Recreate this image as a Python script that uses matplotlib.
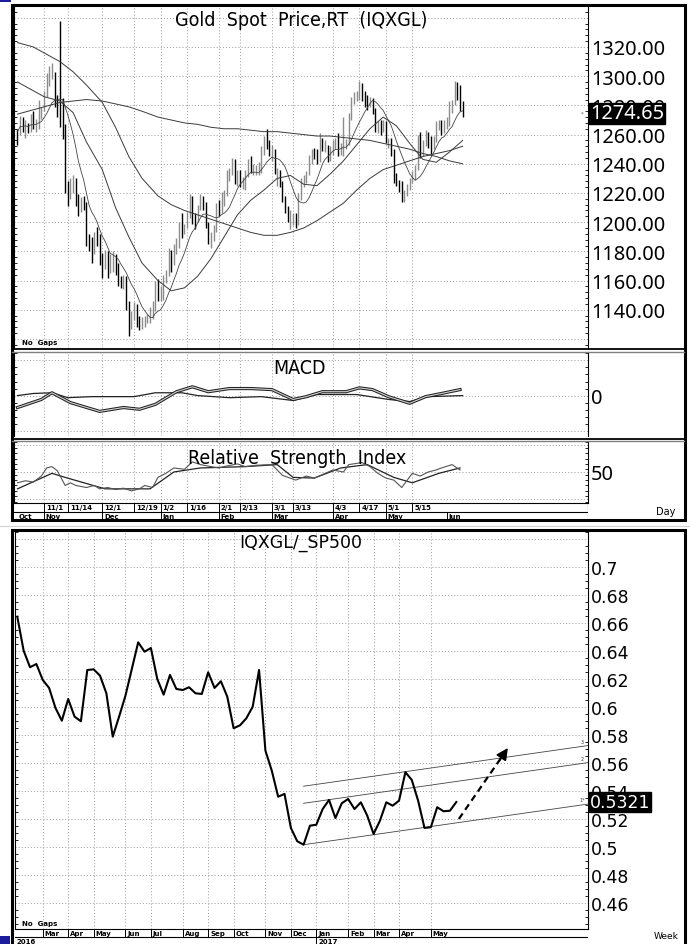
import numpy as np
import pandas as pd
import matplotlib
matplotlib.use('Agg')
import matplotlib.pyplot as plt
from matplotlib.patches import Rectangle
from matplotlib.lines import Line2D
from matplotlib.ticker import MultipleLocator, FixedLocator, FixedFormatter

W, H = 690, 945

# ---------------- top chart: daily gold spot ----------------
day_start, day_end = '2016-10-18', '2017-06-09'

lows = [1253, 1260, 1262, 1258, 1261, 1262, 1264, 1262, 1264, 1271,
        1276, 1286, 1293, 1298, 1279, 1272, 1265, 1257, 1220, 1211, 1216, 1220, 1211, 1204, 1207, 1208, 1184, 1180, 1172, 1178, 1184, 1171,
        1162, 1168, 1162, 1165, 1166, 1164, 1156, 1155, 1154, 1140, 1122, 1127, 1133, 1128, 1126, 1127, 1128, 1131, 1131, 1134, 1139, 1146,
        1146, 1147, 1158, 1163, 1166, 1171, 1178, 1182, 1189, 1192, 1196, 1203, 1199, 1195, 1200, 1208, 1208, 1196, 1185, 1182, 1187, 1193,
        1204, 1206, 1211, 1218, 1228, 1232, 1226, 1225, 1224, 1223, 1222, 1231, 1234, 1232, 1232, 1232, 1234, 1246, 1250, 1245,
        1242, 1233, 1225, 1224, 1214, 1206, 1200, 1195, 1198, 1196, 1198, 1215, 1224, 1227, 1232, 1240, 1243, 1240, 1241, 1249, 1248, 1241, 1242,
        1246, 1250, 1245, 1246, 1245, 1250, 1253, 1270, 1281, 1283, 1284, 1283, 1279, 1277, 1279, 1274, 1262, 1261, 1260, 1262,
        1254, 1251, 1245, 1227, 1225, 1221, 1214, 1214, 1218, 1222, 1227, 1229, 1236, 1244, 1245, 1252, 1251, 1247, 1250, 1255, 1263, 1260, 1261,
        1264, 1266, 1275, 1280, 1284, 1276, 1272]
highs = [1264, 1273, 1272, 1270, 1268, 1274, 1276, 1271, 1284, 1279,
         1290, 1302, 1307, 1309, 1303, 1287, 1338, 1285, 1267, 1228, 1230, 1232, 1230, 1219, 1217, 1218, 1214, 1192, 1190, 1193, 1197, 1192,
         1179, 1181, 1180, 1178, 1180, 1178, 1172, 1163, 1164, 1163, 1146, 1139, 1145, 1144, 1136, 1135, 1136, 1137, 1142, 1146, 1160, 1161,
         1156, 1164, 1167, 1182, 1181, 1185, 1189, 1200, 1206, 1199, 1207, 1219, 1218, 1206, 1212, 1219, 1218, 1214, 1200, 1193, 1198, 1213,
         1215, 1221, 1222, 1236, 1237, 1244, 1243, 1236, 1236, 1231, 1236, 1243, 1245, 1240, 1239, 1241, 1252, 1259, 1264, 1256,
         1253, 1250, 1237, 1236, 1228, 1218, 1211, 1208, 1206, 1206, 1220, 1230, 1232, 1235, 1246, 1250, 1251, 1250, 1261, 1258, 1256, 1253, 1252,
         1256, 1258, 1261, 1254, 1272, 1257, 1275, 1286, 1289, 1290, 1297, 1295, 1290, 1287, 1286, 1285, 1278, 1269, 1270, 1270,
         1269, 1258, 1258, 1250, 1234, 1229, 1228, 1222, 1226, 1230, 1235, 1239, 1260, 1262, 1256, 1263, 1262, 1259, 1259, 1269, 1270, 1270, 1270,
         1272, 1283, 1284, 1297, 1296, 1294, 1283]
closes = [1262, 1269, 1266, 1267, 1263, 1273, 1267, 1269, 1276, 1277,
          1288, 1297, 1303, 1304, 1280, 1275, 1274, 1266, 1225, 1221, 1225, 1226, 1216, 1209, 1213, 1212, 1187, 1183, 1178, 1191, 1188, 1173,
          1170, 1177, 1170, 1170, 1176, 1171, 1160, 1158, 1160, 1143, 1129, 1136, 1141, 1132, 1131, 1131, 1133, 1133, 1139, 1141, 1158, 1151,
          1151, 1162, 1165, 1180, 1172, 1184, 1186, 1197, 1196, 1196, 1204, 1217, 1203, 1202, 1210, 1217, 1212, 1198, 1190, 1190, 1196, 1211,
          1210, 1218, 1220, 1234, 1236, 1241, 1229, 1234, 1226, 1230, 1233, 1241, 1236, 1236, 1236, 1237, 1250, 1257, 1254, 1249,
          1249, 1234, 1234, 1226, 1216, 1209, 1202, 1202, 1204, 1199, 1218, 1226, 1229, 1234, 1244, 1248, 1247, 1243, 1254, 1252, 1252, 1244, 1249,
          1253, 1256, 1248, 1252, 1253, 1254, 1273, 1284, 1287, 1287, 1291, 1289, 1283, 1281, 1283, 1276, 1264, 1267, 1264, 1268,
          1255, 1256, 1248, 1229, 1228, 1227, 1218, 1219, 1224, 1228, 1230, 1237, 1258, 1246, 1254, 1261, 1253, 1251, 1256, 1267, 1267, 1263, 1268,
          1269, 1280, 1281, 1293, 1287, 1280, 1274.65]
last_price = 1274.65

ma_dates = ['2016-10-18', '2016-10-26', '2016-11-01', '2016-11-09', '2016-11-16', '2016-11-23',
            '2016-12-01', '2016-12-08', '2016-12-15', '2016-12-22', '2016-12-30', '2017-01-06',
            '2017-01-13', '2017-01-20', '2017-01-27', '2017-02-03', '2017-02-10', '2017-02-17',
            '2017-02-24', '2017-03-03', '2017-03-10', '2017-03-17', '2017-03-24', '2017-03-31',
            '2017-04-07', '2017-04-14', '2017-04-21', '2017-04-28', '2017-05-05', '2017-05-12',
            '2017-05-19', '2017-05-26', '2017-06-02', '2017-06-09']
ma20 = [1296, 1290, 1286, 1283, 1275, 1255, 1236, 1210, 1190, 1172, 1160, 1153, 1155, 1163, 1175, 1190, 1205,
        1215, 1222, 1230, 1232, 1226, 1225, 1233, 1242, 1253, 1264, 1272, 1266, 1254, 1243, 1241, 1248, 1256]
ma50 = [1323, 1320, 1316, 1310, 1303, 1294, 1282, 1265, 1245, 1230, 1218, 1212, 1208, 1205, 1202, 1199, 1196,
        1193, 1191, 1191, 1193, 1196, 1201, 1207, 1213, 1222, 1230, 1236, 1239, 1242, 1245, 1247, 1249, 1252]
ma200 = [1274, 1277, 1279, 1282, 1283, 1284, 1283, 1281, 1279, 1276, 1272, 1270, 1268, 1267, 1265, 1264, 1264,
         1263, 1262, 1262, 1261, 1260, 1259, 1259, 1258, 1257, 1256, 1254, 1252, 1250, 1247, 1245, 1242, 1240]

macd_dates = ['2016-10-18', '2016-10-31', '2016-11-04', '2016-11-15', '2016-11-30', '2016-12-13', '2016-12-21',
              '2016-12-29', '2017-01-10', '2017-01-18', '2017-01-26', '2017-02-07', '2017-02-17', '2017-03-01',
              '2017-03-13', '2017-03-20', '2017-03-28', '2017-04-10', '2017-04-17', '2017-04-24', '2017-05-02',
              '2017-05-12', '2017-05-22', '2017-05-30', '2017-06-08']
macd_vals = [-0.34, -0.11, 0.08, -0.20, -0.45, -0.34, -0.39, -0.25, 0.11, 0.25, 0.11, 0.20, 0.20, 0.17,
             -0.11, -0.03, 0.11, 0.11, 0.22, 0.17, -0.03, -0.22, -0.03, 0.06, 0.17]
sig_dates = ['2016-10-18', '2016-10-26', '2016-11-04', '2016-11-14', '2016-11-25', '2016-12-08', '2016-12-19',
             '2016-12-29', '2017-01-12', '2017-01-20', '2017-02-07', '2017-02-23', '2017-03-13', '2017-03-24',
             '2017-04-14', '2017-05-02', '2017-05-12', '2017-05-23', '2017-06-09']
sig_vals = [0.0, 0.06, 0.08, -0.06, -0.03, -0.03, -0.03, 0.08, 0.08, 0.0, -0.06, -0.03, -0.14, 0.03,
            0.03, -0.11, -0.17, -0.03, 0.0]

rsi_dates = ['2016-10-18', '2016-10-21', '2016-10-26', '2016-10-31', '2016-11-02', '2016-11-04', '2016-11-08',
             '2016-11-11', '2016-11-15', '2016-11-17', '2016-11-23', '2016-11-28', '2016-11-30', '2016-12-05',
             '2016-12-08', '2016-12-13', '2016-12-16', '2016-12-21', '2016-12-23', '2016-12-28', '2016-12-30',
             '2017-01-04', '2017-01-09', '2017-01-13', '2017-01-18', '2017-01-23', '2017-01-27', '2017-02-01',
             '2017-02-06', '2017-02-10', '2017-02-15', '2017-02-21', '2017-03-01', '2017-03-07', '2017-03-14',
             '2017-03-20', '2017-03-23', '2017-03-28', '2017-04-03', '2017-04-07', '2017-04-11', '2017-04-18',
             '2017-04-21', '2017-04-26', '2017-05-01', '2017-05-04', '2017-05-09', '2017-05-15', '2017-05-18',
             '2017-05-23', '2017-05-26', '2017-05-30', '2017-06-05', '2017-06-08']
rsi_vals = [42, 43.5, 42.5, 47, 53, 54, 51, 40, 42, 40, 38.5, 40, 37.5, 38.5,
            37, 38, 36, 37.5, 40, 38.5, 46,
            49, 53, 52, 57.5, 55.5, 54, 53, 54.5, 56, 54, 55, 55.5, 47.5, 44,
            47, 45.5, 48, 51.5, 50, 55.5, 57, 54, 49, 45.5, 44, 38.5, 49, 47,
            50, 51.5, 53, 55.5, 51.5]
rsi_avg_dates = ['2016-10-18', '2016-11-04', '2016-11-11', '2016-12-02', '2016-12-27', '2017-01-09',
                 '2017-01-23', '2017-02-15', '2017-03-03', '2017-03-13', '2017-03-23', '2017-04-06',
                 '2017-04-20', '2017-05-04', '2017-05-15', '2017-05-29', '2017-06-08']
rsi_avg = [37.5, 49, 46, 37.5, 37.5, 50, 53, 54, 55.5, 46, 45.5, 53, 55.5, 46, 42, 49, 53]

tick_dates = ['2016-11-01', '2016-11-14', '2016-12-01', '2016-12-19', '2017-01-02', '2017-01-16', '2017-02-01',
              '2017-02-13', '2017-03-01', '2017-03-13', '2017-04-03', '2017-04-17', '2017-05-01', '2017-05-15']
tick_labels = ['11/1', '11/14', '12/1', '12/19', '1/2', '1/16', '2/1', '2/13', '3/1', '3/13',
               '4/3', '4/17', '5/1', '5/15']
month_dates = ['2016-11-01', '2016-12-01', '2017-01-02', '2017-02-01', '2017-03-01', '2017-04-03',
               '2017-05-01', '2017-06-01']
month_labels = ['Nov', 'Dec', 'Jan', 'Feb', 'Mar', 'Apr', 'May', 'Jun']

# ---------------- bottom chart: weekly gold / S&P 500 ----------------
week_start = '2016-02-05'
ratio = [0.6645, 0.6402, 0.6284, 0.6307, 0.6193, 0.6136, 0.5993, 0.5902, 0.6057, 0.5931,
         0.5898, 0.6264, 0.6269, 0.6224, 0.6098, 0.5788, 0.5931, 0.6081, 0.6271, 0.6462,
         0.6395, 0.6421, 0.6200, 0.6088, 0.6229, 0.6129, 0.6121, 0.6141, 0.6098, 0.6093,
         0.6248, 0.6136, 0.6184, 0.6074, 0.5848, 0.5869, 0.5919, 0.6002, 0.6264, 0.5688,
         0.5545, 0.5359, 0.5379, 0.5136, 0.5041, 0.5016, 0.5152, 0.5159, 0.5271, 0.5336,
         0.5207, 0.5312, 0.5343, 0.5271, 0.5319, 0.5224, 0.5093, 0.5188, 0.5319, 0.5295,
         0.5331, 0.5534, 0.5479, 0.5331, 0.5136, 0.5141, 0.5284, 0.5255, 0.5259, 0.5321]
last_ratio = 0.5321
channel_start = '2016-12-16'
channel_base = [0.5016, 0.5312, 0.5434]
channel_names = ['1*', '2', '3']
channel_slope = 0.00065          # per week
arrow_from = (69.4, 0.520)       # (week number, ratio)
arrow_to = (77.1, 0.5707)
bmonth_starts = ['2016-03-01', '2016-04-01', '2016-05-01', '2016-06-01', '2016-07-01', '2016-08-01',
                 '2016-09-01', '2016-10-01', '2016-11-01', '2016-12-01', '2017-01-01', '2017-02-01',
                 '2017-03-01', '2017-04-01', '2017-05-01']
bmonth_labels = ['Mar', 'Apr', 'May', 'Jun', 'Jul', 'Aug', 'Sep', 'Oct', 'Nov', 'Dec', 'Jan', 'Feb',
                 'Mar', 'Apr', 'May']

# ---------------- helpers ----------------
days = pd.bdate_range(day_start, day_end)
weeks = pd.date_range(week_start, periods=len(ratio), freq='W-FRI')


def dpos(dates):
    return days.get_indexer(pd.to_datetime(dates))


fig = plt.figure(figsize=(W / 100, H / 100), dpi=100)
fig.patch.set_facecolor('white')


def px_axes(x0, y0, x1, y1):
    return fig.add_axes([x0 / W, 1 - y1 / H, (x1 - x0) / W, (y1 - y0) / H])


def fline(x0, y0, x1, y1, **kw):
    fig.add_artist(Line2D([x0 / W, x1 / W], [1 - y0 / H, 1 - y1 / H], transform=fig.transFigure, **kw))


def frect(x0, y0, x1, y1, **kw):
    fig.add_artist(Rectangle((x0 / W, 1 - y1 / H), (x1 - x0) / W, (y1 - y0) / H,
                             transform=fig.transFigure, **kw))


def ftext(x, y, s, **kw):
    fig.text(x / W, 1 - y / H, s, **kw)


GRID = dict(color='#9a9a9a', linestyle=(0, (1, 2.2)), linewidth=0.7)
TITLE = dict(family='DejaVu Sans', fontstretch='condensed', fontsize=14)
TICK_FONT = 'Noto Sans'
xlim_top = (-1.32, 215.3)
tpos = dpos(tick_dates)


def style_panel(ax, minor):
    for s in ['top', 'bottom']:
        ax.spines[s].set_visible(False)
    ax.spines['left'].set_linewidth(0.8)
    ax.spines['right'].set_linewidth(0.8)
    ax.set_xlim(*xlim_top)
    ax.set_xticks(tpos)
    ax.set_xticklabels([])
    ax.tick_params(axis='x', length=0)
    ax.yaxis.tick_right()
    ax.yaxis.set_minor_locator(MultipleLocator(minor))
    ax.tick_params(axis='y', which='major', length=0, pad=2, labelsize=14.4)
    ax.tick_params(axis='y', which='minor', left=True, right=True, direction='in', length=2.5, width=0.6)
    ax.grid(True, which='major', **GRID)
    for lab in ax.get_yticklabels():
        lab.set_fontfamily(TICK_FONT)


# ---------------- price panel ----------------
ax_p = px_axes(14, 8, 588, 349)
x = np.arange(len(closes))
prev = np.r_[closes[0] + 1, closes[:-1]]
cols = np.where(np.array(closes) < prev, 'black', '#8c8c8c')
ax_p.vlines(x, lows, highs, colors=cols, linewidth=1.0, zorder=3)
ma10 = pd.Series(closes).rolling(10, min_periods=1).mean()
ax_p.plot(x, ma10, color='#444444', lw=0.6, zorder=4)
for ma in (ma20, ma50, ma200):
    ax_p.plot(dpos(ma_dates), ma, color='#3a3a3a', lw=0.7, zorder=4)
ax_p.set_ylim(1113.8, 1347.4)
pticks = list(range(1120, 1341, 20))
ax_p.yaxis.set_major_locator(FixedLocator(pticks))
ax_p.yaxis.set_major_formatter(FixedFormatter(['' if v in (1120, 1340) else f'{v:.2f}' for v in pticks]))
style_panel(ax_p, 4)
ax_p.annotate(f'{last_price:.2f}', xy=(1.0, last_price), xycoords=('axes fraction', 'data'),
              xytext=(1.5, 0), textcoords='offset points', ha='left', va='center',
              color='white', fontsize=14.4, family=TICK_FONT, zorder=10, annotation_clip=False,
              bbox=dict(boxstyle='square,pad=0.03', fc='black', ec='black'))
ax_p.annotate('*', xy=(1.0, last_price), xycoords=('axes fraction', 'data'), xytext=(-4, 0),
              textcoords='offset points', ha='center', va='center', fontsize=4, color='#555')
ax_p.text(0.5, 0.962, 'Gold  Spot  Price,RT  (IQXGL)', transform=ax_p.transAxes, ha='center',
          va='center', **TITLE)
ax_p.text(0.014, 0.018, 'No  Gaps', transform=ax_p.transAxes, fontsize=5, fontweight='bold',
          family='DejaVu Sans', va='center')

# ---------------- MACD panel ----------------
ax_m = px_axes(14, 353, 588, 437)
ax_m.plot(dpos(sig_dates), sig_vals, color='#222222', lw=0.9)
ax_m.plot(dpos(macd_dates), macd_vals, color='#222222', lw=2.3)
ax_m.plot(dpos(macd_dates), macd_vals, color='#d0d0d0', lw=0.8)
ax_m.set_ylim(-1.15, 1.24)
ax_m.yaxis.set_major_locator(FixedLocator([-1, 0, 1]))
ax_m.yaxis.set_major_formatter(FixedFormatter(['', '0', '']))
style_panel(ax_m, 0.2)
ax_m.text(0.498, 0.82, 'MACD', transform=ax_m.transAxes, ha='center', va='center', **TITLE)

# ---------------- RSI panel ----------------
ax_r = px_axes(14, 442, 588, 504)
ax_r.plot(dpos(rsi_avg_dates), rsi_avg, color='#222222', lw=0.9)
ax_r.plot(dpos(rsi_dates), rsi_vals, color='#555555', lw=0.8)
ax_r.set_ylim(27, 73)
ax_r.yaxis.set_major_locator(FixedLocator([30, 50, 70]))
ax_r.yaxis.set_major_formatter(FixedFormatter(['', '50', '']))
style_panel(ax_r, 4)
ax_r.spines['bottom'].set_visible(True)
ax_r.spines['bottom'].set_linewidth(0.8)
ax_r.text(0.494, 0.73, 'Relative  Strength  Index', transform=ax_r.transAxes, ha='center',
          va='center', **TITLE)

# ---------------- daily date axis ----------------
ax_d = px_axes(14, 504, 588, 520)
ax_d.set_xlim(*xlim_top)
ax_d.set_ylim(0, 16)
ax_d.axis('off')
ax_d.axhline(7, color='black', lw=0.8)
ax_d.axvline(xlim_top[1], color='black', lw=0.8)
ax_d.vlines(tpos, 7, 16, color='black', lw=0.7)
for p, s in zip(tpos, tick_labels):
    ax_d.text(p + 0.7, 11.5, s, fontsize=5, fontweight='bold', va='center', ha='left')
mpos = dpos(month_dates)
ax_d.vlines(mpos, 0, 7, color='black', lw=0.7)
for p, s in zip(mpos, month_labels):
    ax_d.text(p + 0.7, 3.3, s, fontsize=5, fontweight='bold', va='center', ha='left')
ax_d.text(xlim_top[0] + 1.8, 3.3, 'Oct', fontsize=5, fontweight='bold', va='center', ha='left')
ftext(666, 512, 'Day', fontsize=7, ha='center', va='center')

# ---------------- bottom chart ----------------
ax_b = px_axes(15, 533, 588, 930)
wx = np.arange(len(ratio))
ax_b.plot(wx, ratio, color='black', lw=1.5, zorder=4)
ax_b.set_xlim(-0.36, 89.7)
ax_b.set_ylim(0.4414, 0.725)
c0 = weeks.get_loc(pd.Timestamp(channel_start))
xr = ax_b.get_xlim()[1]
for base, name in zip(channel_base, channel_names):
    y1 = base + channel_slope * (xr - c0)
    ax_b.plot([c0, xr], [base, y1], color='#444444', lw=0.6, zorder=3)
    ax_b.annotate(name, xy=(xr, y1), xytext=(-4, 3), textcoords='offset points', fontsize=3.5,
                  ha='center', va='center', color='#444')
ax_b.plot([arrow_from[0], arrow_to[0] - 0.9], [arrow_from[1], arrow_to[1] - 0.006], color='black',
          lw=1.6, linestyle=(0, (3, 2)), zorder=5)
ax_b.annotate('', xy=arrow_to, xytext=(arrow_to[0] - 1.4, arrow_to[1] - 0.0095),
              arrowprops=dict(arrowstyle='-|>,head_length=0.7,head_width=0.35', color='black', lw=1.2,
                              shrinkA=0, shrinkB=0), zorder=6)
bticks = [round(0.44 + 0.02 * i, 2) for i in range(15)]
ax_b.yaxis.set_major_locator(FixedLocator(bticks))
ax_b.yaxis.set_major_formatter(FixedFormatter(['' if v in (0.44, 0.72) else f'{v:g}' for v in bticks]))
ax_b.yaxis.tick_right()
ax_b.yaxis.set_minor_locator(MultipleLocator(0.005))
bm_pos = [int(weeks.searchsorted(pd.Timestamp(m) - pd.Timedelta(days=2))) for m in bmonth_starts]
ax_b.set_xticks(bm_pos)
ax_b.set_xticklabels([])
ax_b.tick_params(axis='x', length=0)
ax_b.tick_params(axis='y', which='major', length=0, pad=2, labelsize=12.5)
ax_b.tick_params(axis='y', which='minor', left=True, right=True, direction='in', length=2, width=0.6)
ax_b.grid(True, which='major', **GRID)
ax_b.spines['top'].set_visible(False)
for s in ['left', 'right', 'bottom']:
    ax_b.spines[s].set_linewidth(0.8)
ax_b.annotate(f'{last_ratio:.4f}', xy=(1.0, last_ratio), xycoords=('axes fraction', 'data'),
              xytext=(1.5, 0), textcoords='offset points', ha='left', va='center', color='white',
              fontsize=12.5, zorder=10, annotation_clip=False,
              bbox=dict(boxstyle='square,pad=0.05', fc='black', ec='black'))
ax_b.text(0.499, 0.975, 'IQXGL/_SP500', transform=ax_b.transAxes, ha='center', va='center', fontsize=12.5)
ax_b.text(0.012, 0.015, 'No  Gaps', transform=ax_b.transAxes, fontsize=5, fontweight='bold', va='center')

ax_bd = px_axes(15, 930, 588, 945)
ax_bd.set_xlim(*ax_b.get_xlim())
ax_bd.set_ylim(0, 15)
ax_bd.axis('off')
ax_bd.axhline(7, color='black', lw=0.8)
for p, s in zip(bm_pos, bmonth_labels):
    ax_bd.vlines(p, 0 if s == 'Jan' else 7, 15, color='black', lw=0.7)
    ax_bd.text(p + 0.3, 11, s, fontsize=5, fontweight='bold', va='center', ha='left')
ax_bd.text(-0.1, 3, '2016', fontsize=5, fontweight='bold', va='center', ha='left')
ax_bd.text(bm_pos[bmonth_labels.index('Jan')] + 0.3, 3, '2017', fontsize=5, fontweight='bold',
           va='center', ha='left')
ftext(666, 937, 'Week', fontsize=6.5, ha='center', va='center')

# ---------------- frames and separators ----------------
frect(11.5, 6, 684.5, 521, fill=False, ec='black', lw=2.2)
fline(12, 350.3, 684, 350.3, color='black', lw=1.3)
fline(12, 352.6, 684, 352.6, color='#808080', lw=1.0)
fline(12, 439.6, 684, 439.6, color='black', lw=1.3)
fline(12, 441.9, 684, 441.9, color='#808080', lw=1.0)
fline(0, 526.5, 690, 526.5, color='#d0d0d0', lw=0.8)
frect(11.5, 531, 684.5, 960, fill=False, ec='black', lw=2.2)
frect(0, 0, 11, 3, fc='#1c1c9c', ec='none')
frect(0, 937, 10, 945, fc='#1c1c9c', ec='none')

fig.savefig('out.png', dpi=100)
